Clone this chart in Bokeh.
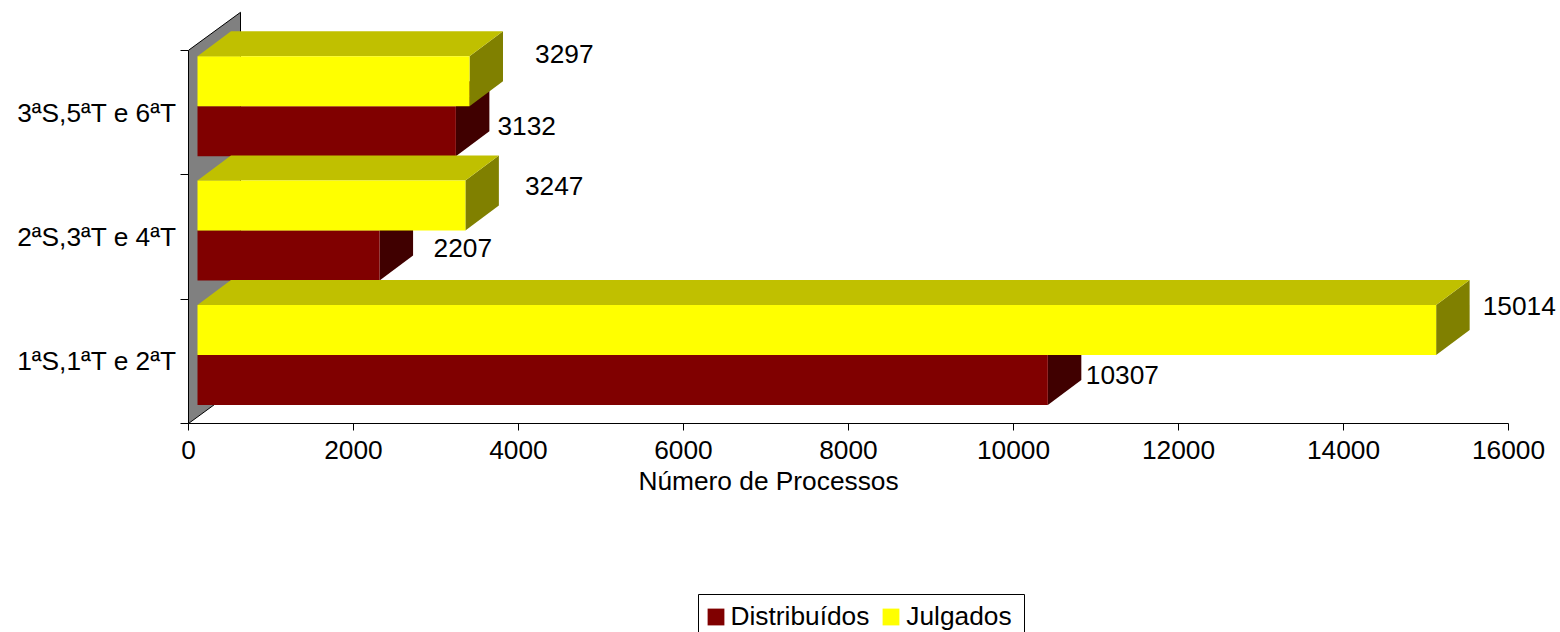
from bokeh.plotting import figure
from bokeh.layouts import column
from bokeh.models import (Range1d, FixedTicker, Legend, LegendItem,
                          ColumnDataSource)
from bokeh.core.properties import value
from bokeh.embed import file_html
from bokeh.resources import INLINE

# ---- data ----
categories = ["1ªS,1ªT e 2ªT", "2ªS,3ªT e 4ªT", "3ªS,5ªT e 6ªT"]
distribuidos = [10307, 2207, 3132]
julgados = [15014, 3247, 3297]
x_ticks = [0, 2000, 4000, 6000, 8000, 10000, 12000, 14000, 16000]
series_names = ["Distribuídos", "Julgados"]
x_title = "Número de Processos"

# ---- styles ----
FONT = "Liberation Sans"
FS = "26.3px"
W, H = 1560, 632
TOP_H = 466                                     # height of the chart figure
LEFT, RIGHT_AXIS, BOTTOM = 188, 1508, 423       # frame in figure pixels
PX_X = (RIGHT_AXIS - LEFT) / 16000
PX_Y = 124.4

BAR_START = 9 / PX_X      # gap between wall and front of the bars
DX, DY = 33.5 / PX_X, 25 / PX_Y    # bar depth
WALL_DX, WALL_DY = 52 / PX_X, 38 / PX_Y
LOW, MID, HIGH = 0.149, 0.551, 0.953

RED = ("#800000", "#400000", "#600000")    # front, side, top
YEL = ("#FFFF00", "#808000", "#C0C000")

# free placement of the value labels, pixels (x from the bar's end, y from bar centre)
off_dist = [(4.5, -5), (20.5, -8), (8, -5)]
off_jul = [(13, -24), (26, -20), (32, -27)]

p = figure(width=W, height=TOP_H, output_backend="svg", toolbar_location=None,
           x_range=Range1d(0, (W - LEFT) / PX_X),
           y_range=Range1d(0, BOTTOM / PX_Y),
           min_border_left=LEFT, min_border_right=0, min_border_top=0,
           min_border_bottom=TOP_H - BOTTOM, outline_line_color=None,
           background_fill_color="white", border_fill_color="white")
p.grid.visible = False

# ---- axes ----
xa = p.xaxis[0]
xa.ticker = FixedTicker(ticks=x_ticks)
xa.bounds = (0, 16000)
xa.major_tick_out, xa.major_tick_in = 7, 0
xa.minor_tick_out, xa.minor_tick_in = 0, 0
xa.major_label_standoff = 10
xa.major_label_text_font = FONT
xa.major_label_text_font_size = FS
xa.major_label_text_color = "black"
xa.axis_line_color = "black"
xa.major_tick_line_color = "black"

ya = p.yaxis[0]
n = len(categories)
ya.ticker = FixedTicker(ticks=[i + 0.5 for i in range(n)],
                        minor_ticks=list(range(n + 1)))
ya.major_label_overrides = {i + 0.5: c for i, c in enumerate(categories)}
ya.bounds = (0, n)
ya.major_tick_out, ya.major_tick_in = 0, 0
ya.minor_tick_out, ya.minor_tick_in = 8, 0
ya.major_label_standoff = 4
ya.major_label_text_font = FONT
ya.major_label_text_font_size = FS
ya.major_label_text_color = "black"
ya.axis_line_color = "black"
ya.minor_tick_line_color = "black"

# ---- back wall ----
p.patch([0, WALL_DX, WALL_DX, 0], [0, WALL_DY, n + WALL_DY, n],
        fill_color="#808080", line_color="black", line_width=1)


def box(val, y0, y1, colors):
    """Draw one 3D bar from its value."""
    x0, x1 = BAR_START, val + BAR_START
    for xs, ys, c in (
        ([x1, x1 + DX, x1 + DX, x1], [y0, y0 + DY, y1 + DY, y1], colors[1]),
        ([x0, x0 + DX, x1 + DX, x1], [y1, y1 + DY, y1 + DY, y1], colors[2]),
    ):
        p.patch(xs, ys, fill_color=c, line_color=None)
    p.quad(left=x0, right=x1, bottom=y0, top=y1,
           fill_color=colors[0], line_color=None)


for i in reversed(range(n)):
    box(distribuidos[i], i + LOW, i + MID, RED)
    box(julgados[i], i + MID, i + HIGH, YEL)

# ---- value labels ----
lab = dict(x=[], y=[], text=[], xo=[], yo=[])
for i in range(n):
    for val, y, off in ((distribuidos[i], i + (LOW + MID) / 2, off_dist[i]),
                        (julgados[i], i + (MID + HIGH) / 2, off_jul[i])):
        lab["x"].append(val + BAR_START + DX)
        lab["y"].append(y)
        lab["text"].append(str(val))
        lab["xo"].append(off[0])
        lab["yo"].append(off[1])
p.text(x="x", y="y", text="text", x_offset="xo", y_offset="yo",
       source=ColumnDataSource(lab), text_font=value(FONT), text_font_size=value(FS),
       text_align="left", text_baseline="middle", text_color="black")

# ---- lower strip: axis title and legend, ranges in page pixels ----
# (a column aligns the frames of its children, so this one keeps the same left border)
q = figure(width=W, height=H - TOP_H, output_backend="svg", toolbar_location=None,
           x_range=Range1d(LEFT, W), y_range=Range1d(H, TOP_H),
           min_border_left=LEFT, min_border_right=0, min_border_top=0,
           min_border_bottom=0, outline_line_color=None, x_axis_location=None,
           y_axis_location=None, background_fill_color="white",
           border_fill_color="white")
q.grid.visible = False
q.text(x=[768], y=[480], text=[x_title], text_font=value(FONT),
       text_font_size=value(FS), text_align="center", text_baseline="middle",
       text_color="black")
# legend box, open at the page's bottom edge as in the reference
q.quad(left=[698], right=[1024], top=[594], bottom=[H + 10],
       fill_color="white", line_color="black", line_width=1)
sw_d = q.quad(left=[LEFT], right=[LEFT], bottom=[H], top=[H], fill_color=RED[0], line_color=None)
sw_j = q.quad(left=[LEFT], right=[LEFT], bottom=[H], top=[H], fill_color=YEL[0], line_color=None)
legend = Legend(items=[LegendItem(label=series_names[0], renderers=[sw_d]),
                       LegendItem(label=series_names[1], renderers=[sw_j])],
                orientation="horizontal", location=(516.5, 0.5),
                glyph_width=21, glyph_height=21, label_standoff=5, spacing=11,
                padding=5, margin=0, label_text_font=FONT, label_text_font_size=FS,
                label_text_color="black", border_line_color=None,
                background_fill_alpha=0)
q.add_layout(legend)

page = column(p, q, spacing=0)
open("out.html", "w").write(file_html(page, INLINE))
